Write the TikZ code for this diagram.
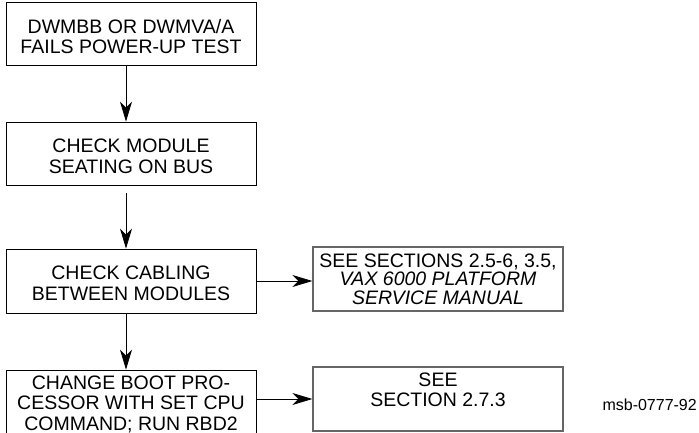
\documentclass[tikz,border=0pt]{standalone}
\usepackage{fontspec}
\setmainfont{Liberation Sans}
\usetikzlibrary{arrows.meta}
\begin{document}
\begin{tikzpicture}[x=1pt,y=-1pt,
  box/.style={draw=black, line width=0.8pt, rectangle, inner sep=0pt, minimum width=250pt},
  refbox/.style={draw=black!60, line width=1.3pt, rectangle, inner sep=0pt, minimum width=250pt, minimum height=64pt},
  txt/.style={inner sep=0pt, anchor=north, align=center, font=\fontsize{19.5}{20.5}\selectfont},
  flow/.style={line width=0.8pt, -{Stealth[length=20pt,width=12pt,inset=6pt]}}]
  \path[use as bounding box] (0,0) rectangle (699,433);
  \clip (0,0) rectangle (699,433);

  % left column of steps
  \node[box, minimum height=63pt] (b1) at (131,33.5) {};
  \node[box, minimum height=63pt] (b2) at (131,153.5) {};
  \node[box, minimum height=64pt] (b3) at (131,281) {};
  \node[box, minimum height=70pt] (b4) at (131,405) {};

  % reference boxes
  \node[refbox] (r1) at (438,279) {};
  \node[refbox] (r2) at (438,399) {};

  % box texts
  \node[txt] (t1) at (131,19) {DWMBB OR DWMVA/A\\FAILS POWER-UP TEST};
  \node[txt] (t2) at (131,139) {CHECK MODULE\\SEATING ON BUS};
  \node[txt] (t3) at (131,266) {CHECK CABLING\\BETWEEN MODULES};
  \node[txt] (t4) at (131,375.5) {CHANGE BOOT PRO-\\CESSOR WITH SET CPU\\COMMAND; RUN RBD2};
  \node[txt, font=\fontsize{19.5}{18.7}\selectfont] (t5) at (438,253.3)
    {SEE SECTIONS 2.5-6, 3.5,\\{\itshape VAX 6000 PLATFORM}\\{\itshape SERVICE MANUAL}};
  \node[txt, font=\fontsize{19.5}{19.5}\selectfont] (t6) at (438,372.7) {SEE\\SECTION 2.7.3};

  % figure tag
  \node[inner sep=0pt, anchor=base east, font=\fontsize{16}{18}\selectfont] (tag) at (697,410) {msb-0777-92};

  % connectors
  \coordinate (col) at (126,0);
  \draw[flow] (b1.south -| col) -- (b2.north -| col);
  \draw[flow, shorten <=8pt] (b2.south -| col) -- (b3.north -| col);
  \draw[flow] (b3.south -| col) -- (b4.north -| col);
  \draw[flow] (b3.east) -- (r1.west |- b3.east);
  \draw[flow] (b4.east |- r2.west) -- (r2.west);
\end{tikzpicture}
\end{document}
